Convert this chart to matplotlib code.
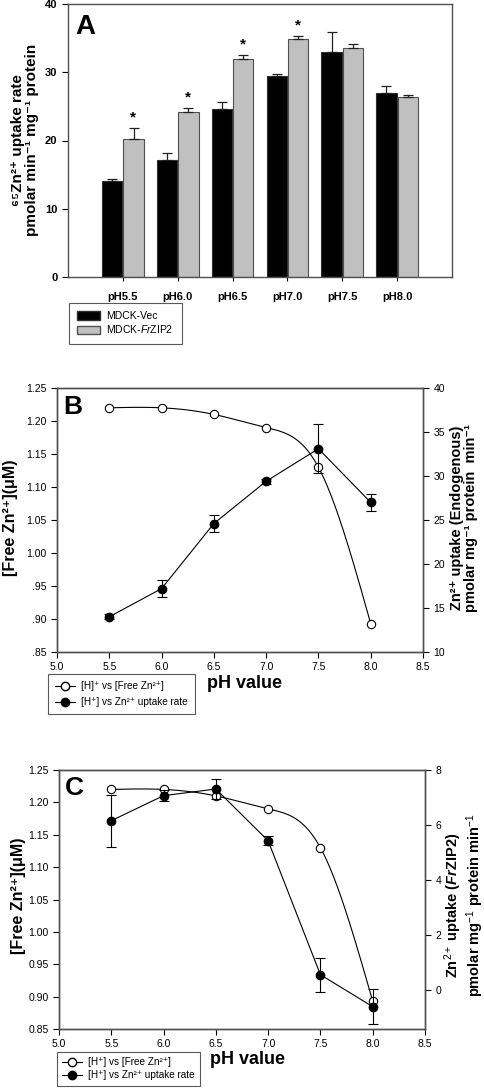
import numpy as np
import matplotlib
matplotlib.use("Agg")
import matplotlib.pyplot as plt
from matplotlib.patches import Patch
from matplotlib.lines import Line2D

plt.rcParams['font.family'] = ['Liberation Sans', 'DejaVu Sans']
plt.rcParams['mathtext.fontset'] = 'custom'
plt.rcParams['mathtext.rm'] = 'Liberation Sans'
plt.rcParams['mathtext.it'] = 'Liberation Sans:italic'
plt.rcParams['mathtext.bf'] = 'Liberation Sans:bold'
plt.rcParams['mathtext.bfit'] = 'Liberation Sans:italic:bold'

# panel A data
ph_labels = ["pH5.5", "pH6.0", "pH6.5", "pH7.0", "pH7.5", "pH8.0"]
vec = [14.0, 17.2, 24.6, 29.4, 33.0, 27.0]
vec_err = [0.4, 1.0, 1.0, 0.3, 2.9, 1.0]
frzip = [20.2, 24.2, 31.9, 34.9, 33.6, 26.4]
frzip_err = [1.6, 0.5, 0.6, 0.35, 0.6, 0.2]
signif = [True, True, True, True, False, False]

# panels B and C data
ph = [5.5, 6.0, 6.5, 7.0, 7.5, 8.0]
free_zn = [1.22, 1.22, 1.21, 1.19, 1.13, 0.893]
uptake_endo = [14.0, 17.2, 24.6, 29.4, 33.1, 27.0]
uptake_endo_err = [0.3, 1.0, 1.0, 0.3, 2.8, 1.0]
uptake_zip = [6.16, 7.07, 7.31, 5.43, 0.57, -0.59]
uptake_zip_err = [0.95, 0.2, 0.35, 0.17, 0.62, 0.63]


def spline(x, y, n=200):
    # natural cubic spline through the points (SigmaPlot-style smooth line)
    x = np.asarray(x, float)
    y = np.asarray(y, float)
    k = len(x)
    h = np.diff(x)
    A = np.zeros((k, k))
    b = np.zeros(k)
    A[0, 0] = A[-1, -1] = 1
    for i in range(1, k - 1):
        A[i, i - 1] = h[i - 1]
        A[i, i] = 2 * (h[i - 1] + h[i])
        A[i, i + 1] = h[i]
        b[i] = 6 * ((y[i + 1] - y[i]) / h[i] - (y[i] - y[i - 1]) / h[i - 1])
    M = np.linalg.solve(A, b)
    xs = np.linspace(x[0], x[-1], n)
    idx = np.clip(np.searchsorted(x, xs) - 1, 0, k - 2)
    x0, x1 = x[idx], x[idx + 1]
    hh = x1 - x0
    t0 = x1 - xs
    t1 = xs - x0
    ys = (M[idx] * t0 ** 3 + M[idx + 1] * t1 ** 3) / (6 * hh) \
        + (y[idx] / hh - M[idx] * hh / 6) * t0 \
        + (y[idx + 1] / hh - M[idx + 1] * hh / 6) * t1
    return xs, ys


fig = plt.figure(figsize=(4.84, 10.92), dpi=100)
W, H = 484, 1092


def axes_px(l, t, r, b):
    return fig.add_axes([l / W, 1 - b / H, (r - l) / W, (b - t) / H])


def vtext(x, y, s, size):
    fig.text(x / W, 1 - y / H, s, rotation=90, ha="center", va="center",
             fontsize=size, fontweight="bold", linespacing=1.0)


spine_col = "#505050"

# ---------------- panel A ----------------
axA = axes_px(68, 4, 452, 277)
pos = np.arange(1, len(ph_labels) + 1)
bw = 0.37
axA.bar(pos - bw / 2 - 0.01, vec, bw, color="black", edgecolor="#303030", linewidth=0.8,
        yerr=[np.zeros(6), vec_err], capsize=3.5, error_kw=dict(elinewidth=0.9, capthick=0.9, ecolor="#202020"))
axA.bar(pos + bw / 2 + 0.01, frzip, bw, color="#c0c0c0", edgecolor="#505050", linewidth=0.8,
        yerr=[np.zeros(6), frzip_err], capsize=3.5, error_kw=dict(elinewidth=0.9, capthick=0.9, ecolor="#202020"))
for p, f, e, s in zip(pos, frzip, frzip_err, signif):
    if s:
        axA.text(p + bw / 2, f + e + 0.6, "*", ha="center", va="bottom", fontsize=11, fontweight="bold")
axA.set_xlim(0, 7)
axA.set_ylim(0, 40)
axA.set_yticks([0, 10, 20, 30, 40])
axA.set_xticks(pos)
axA.set_xticklabels(ph_labels, fontweight="bold", fontsize=8)
for lab in axA.get_yticklabels():
    lab.set_fontweight("bold")
    lab.set_fontsize(8)
axA.tick_params(axis="y", length=4, width=0.8, colors="black")
axA.tick_params(axis="x", length=3, width=0.8, pad=8)
for s in axA.spines.values():
    s.set_color(spine_col)
    s.set_linewidth(1.0)
vtext(25, 140, "\u2076\u2075Zn\u00b2\u207a uptake rate\npmolar min\u207b\u00b9 mg\u207b\u00b9 protein", 11)
axA.text(0.02, 0.965, "A", transform=axA.transAxes, fontsize=20, fontweight="bold", va="top", ha="left")
handlesA = [Patch(facecolor="black", edgecolor="#303030", label="MDCK-Vec"),
            Patch(facecolor="#c0c0c0", edgecolor="#505050", label="MDCK-$\\mathit{Fr}$ZIP2")]
legA = fig.legend(handles=handlesA, loc="upper left", bbox_to_anchor=(69 / W, 1 - 303 / H),
                  fontsize=7.5, frameon=True, fancybox=False, handlelength=2.2, handleheight=0.9,
                  borderpad=0.8, labelspacing=0.2, borderaxespad=0, handletextpad=0.6)
legA.get_frame().set_edgecolor("#303030")
legA.get_frame().set_linewidth(0.8)


def line_panel(ax, right_vals, right_err, ylim2, yticks2, left_fmt, letter, xl_pos):
    xs, ys = spline(ph, free_zn)
    ax.plot(xs, ys, color="black", linewidth=0.8, zorder=2)
    ax.plot(ph, free_zn, "o", mfc="white", mec="black", ms=6, mew=0.8, zorder=4)
    ax.set_xlim(5.0, 8.5)
    ax.set_ylim(0.85, 1.25)
    ax.set_xticks(np.arange(5.0, 8.51, 0.5))
    ax.set_xticklabels([f"{v:.1f}" for v in np.arange(5.0, 8.51, 0.5)])
    yt = np.arange(0.85, 1.2501, 0.05)
    ax.set_yticks(yt)
    ax.set_yticklabels([left_fmt(v) for v in yt])
    ax.tick_params(labelsize=7.5, length=4, width=0.8)
    ax.text(0.017, 0.975, letter, transform=ax.transAxes, fontsize=19, fontweight="bold", va="top", ha="left")
    ax2 = ax.twinx()
    ax2.plot(ph, right_vals, color="black", linewidth=0.8, zorder=2)
    ax2.errorbar(ph, right_vals, yerr=right_err, fmt="o", color="black", ms=6, capsize=3.5,
                 elinewidth=0.8, capthick=0.8, zorder=3)
    ax2.set_ylim(*ylim2)
    ax2.set_yticks(yticks2)
    ax2.tick_params(labelsize=7.5, length=4, width=0.8)
    for a in (ax, ax2):
        for s in a.spines.values():
            s.set_color(spine_col)
            s.set_linewidth(1.0)
    fig.text(xl_pos[0] / W, 1 - xl_pos[1] / H, "pH value", fontsize=13, fontweight="bold", ha="left", va="center")
    return ax2


# ---------------- panel B ----------------
axB = axes_px(57, 388, 423, 652)
line_panel(axB, uptake_endo, uptake_endo_err, (10, 40), [10, 15, 20, 25, 30, 35, 40],
           lambda v: f"{v:.2f}" if v >= 1 else f"{v:.2f}"[1:], "B", (207, 684))
vtext(11, 518, "[Free Zn\u00b2\u207a](\u03bcM)", 11.5)
vtext(464, 518, "Zn\u00b2\u207a uptake (Endogenous)\npmolar mg\u207b\u00b9 protein  min\u207b\u00b9", 10.5)
handlesB = [Line2D([], [], color="black", lw=0.8, marker="o", mfc="white", mec="black", ms=6,
                   label="[H]\u207a vs [Free Zn\u00b2\u207a]"),
            Line2D([], [], color="black", lw=0.8, marker="o", mfc="black", ms=6,
                   label="[H\u207a] vs Zn\u00b2\u207a uptake rate")]
legB = fig.legend(handles=handlesB, loc="upper left", bbox_to_anchor=(48 / W, 1 - 674 / H),
                  fontsize=7.2, frameon=True, fancybox=False, handlelength=2.0, handletextpad=0.6,
                  borderpad=0.7, labelspacing=0.6, borderaxespad=0)
legB.get_frame().set_edgecolor("#303030")
legB.get_frame().set_linewidth(0.8)

# ---------------- panel C ----------------
axC = axes_px(59, 770, 425, 1029)
line_panel(axC, uptake_zip, uptake_zip_err, (-1.4, 8), [0, 2, 4, 6, 8],
           lambda v: f"{v:.2f}", "C", (210, 1060))
vtext(19, 896, "[Free Zn\u00b2\u207a](\u03bcM)", 11.5)
vtext(464, 905, "Zn$^{2+}$ uptake ($\\mathbfit{Fr}$ZIP2)\npmolar mg$^{-1}$ protein min$^{-1}$", 10.5)
handlesC = [Line2D([], [], color="black", lw=0.8, marker="o", mfc="white", mec="black", ms=6,
                   label="[H\u207a] vs [Free Zn\u00b2\u207a]"),
            Line2D([], [], color="black", lw=0.8, marker="o", mfc="black", ms=6,
                   label="[H\u207a] vs Zn\u00b2\u207a uptake rate")]
legC = fig.legend(handles=handlesC, loc="upper left", bbox_to_anchor=(57 / W, 1 - 1052 / H),
                  fontsize=7.2, frameon=True, fancybox=False, handlelength=2.0, handletextpad=0.6,
                  borderpad=0.5, labelspacing=0.35, borderaxespad=0)
legC.get_frame().set_edgecolor("#303030")
legC.get_frame().set_linewidth(0.8)

fig.savefig("out.png", dpi=100)
